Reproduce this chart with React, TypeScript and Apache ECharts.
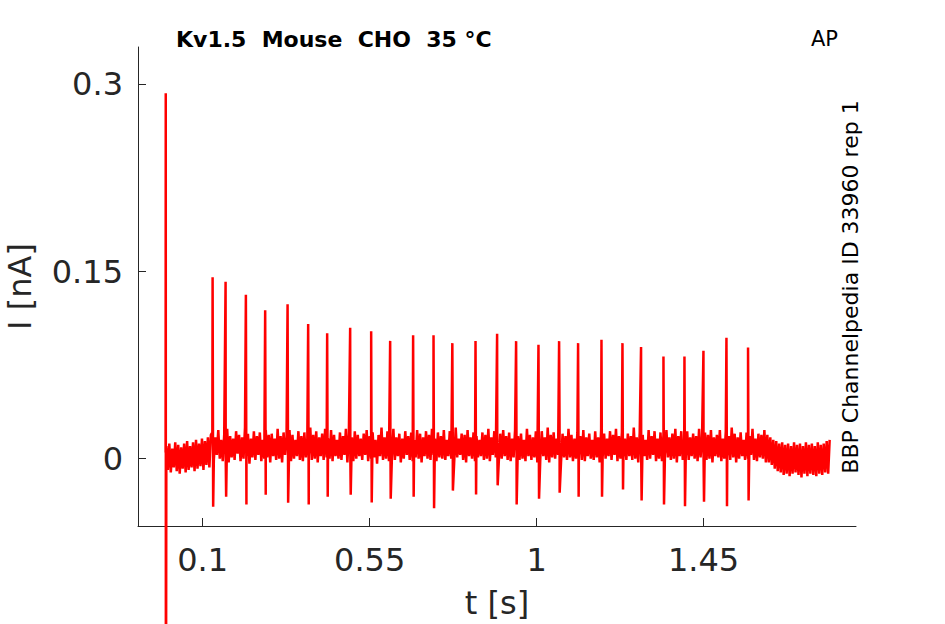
import React, { useEffect, useRef } from "react";
import * as echarts from "echarts";

// ---- data ----
const xTicks = [0.1, 0.55, 1, 1.45];
const yTicks = [0, 0.15, 0.3];

// onset transient (t [s], I [nA])
const onsetTimes = [0, 0.0004, 0.0008];
const onsetValues = [0.005, 0.293, -0.3];

// action-potential evoked spikes
const spikeTimes = [0.1267, 0.1617, 0.2164, 0.2684, 0.3288, 0.3843, 0.4355, 0.4975, 0.5541, 0.6053, 0.6672, 0.7222, 0.7729, 0.8354, 0.8936, 0.9448, 1.0051, 1.0607, 1.1119, 1.1749, 1.2315, 1.2816, 1.342, 1.3986, 1.4498, 1.5118, 1.57];
const spikePeaks = [0.1454, 0.1418, 0.1314, 0.119, 0.1238, 0.108, 0.1006, 0.105, 0.1022, 0.0944, 0.099, 0.099, 0.0926, 0.0944, 0.1002, 0.0942, 0.0912, 0.0942, 0.0926, 0.0954, 0.0926, 0.0894, 0.0818, 0.0818, 0.0864, 0.097, 0.089];
const spikeTroughs = [-0.0386, -0.0306, -0.0368, -0.029, -0.0354, -0.0368, -0.0306, -0.029, -0.0352, -0.0322, -0.0306, -0.0398, -0.0256, -0.0288, -0.0214, -0.0368, -0.0322, -0.0274, -0.0306, -0.0306, -0.0248, -0.0336, -0.0368, -0.0382, -0.0346, -0.0382, -0.0336];
const spikeTroughLag = 0.0015;

// baseline noise, pA, sampled every 4 ms from 2 ms
const noiseT0 = 0.002;
const noiseDt = 0.004;
const noisePA = [
  // before the first spike
  10, -9, 12, -11, 8, -7, 13, -10, 11, -12, 9, -8, 12, -11, 14, -9, 10, -7, 13, -10,
  15, -8, 12, -6, 16, -9, 14, -5, 17, -7, 19,
  // spike train
  21, -1, 17, 3, 23, 0, 15, -2, 19, 2, 24, -3, 18, 1, 16, -1, 22, 4, 19, -2,
  17, 0, 25, 2, 20, -4, 16, 1, 22, -1, 18, 3, 21, -2, 15, 0, 23, 1, 19, -3,
  20, 2, 16, -1, 24, 0, 18, -3, 21, 3, 17, 1, 23, -2, 19, 0, 15, 2, 22, -1,
  18, -2, 21, 1, 16, 3, 25, -1, 19, 0, 22, -3, 17, 2, 20, -1, 24, 1, 16, 0,
  23, -2, 19, 2, 15, 0, 21, -1, 18, 3, 24, -3, 20, 1, 17, -2, 22, 0, 19, 2,
  16, -1, 20, 3, 23, -2, 18, 0, 21, 1, 15, -4, 19, 2, 25, -1, 17, 0, 22, -2,
  19, 1, 24, -1, 17, 2, 20, -3, 16, 0, 22, 3, 18, -1, 21, -2, 15, 1, 23, 0,
  20, -3, 17, 2, 22, 0, 19, -1, 24, 3, 16, -2, 21, 1, 18, 0, 23, -1, 15, 2,
  22, 0, 18, -2, 25, 1, 16, 3, 20, -1, 19, -3, 23, 2, 17, 0, 21, -2, 18, 1,
  15, 2, 21, -1, 19, 0, 24, -2, 17, 3, 22, 1, 16, -3, 20, 0, 23, 2, 18, -1,
  21, -2, 16, 1, 23, 3, 18, -1, 20, 0, 15, -2, 24, 2, 19, -1, 17, 1, 22, -3,
  18, 0, 22, 2, 17, -1, 25, -3, 19, 1, 21, 0, 16, 3, 23, -2, 20, 1, 18, -1,
  24, 1, 19, -2, 16, 0, 21, 3, 18, -1, 23, -2, 17, 2, 20, 0, 15, -1, 22, 1,
  17, -3, 23, 1, 20, 0, 16, 2, 22, -1, 19, 3, 24, -2, 18, 0, 21, 1, 16, -1,
  20, 2, 18, -1, 25, 0, 17, -3, 21, 1, 19, 2, 15, -1, 23, 0, 18, 3, 22, -2,
  16, 0, 21, -2, 19, 3, 23, 1, 17, -1, 20, 0, 24, -3, 18, 2, 22, -1, 15, 1,
  22, -1, 17, 2, 20, 0, 18, -2, 24, 1, 16, 3, 21, -1, 19, 0, 23, -3, 17, 2,
  19, 1, 23, -2, 16, 0, 22, 2, 18, -1, 25, 1, 20, -3, 17, 0, 21, 2, 15, -1,
  21, 0, 18, 3, 24, -1, 16, -2, 20, 1, 19, 0, 23, -3,
  // after the train
  19, -3, 17, -5, 15, -8, 14, -10, 12, -11, 13, -13, 11, -12, 12, -14, 10, -12, 13, -11,
  11, -13, 12, -15, 10, -12, 13, -14, 11, -12, 12, -13, 10, -14, 13, -12, 11, -13, 12, -11,
  14, -12, 15,
];

const titleText = "Kv1.5  Mouse  CHO  35 °C";
const cornerText = "AP";
const sideText = "BBP Channelpedia ID 33960 rep 1";
const xName = "t [s]";
const yName = "I [nA]";

function buildTrace(): [number, number][] {
  const pts: [number, number][] = [];
  onsetTimes.forEach((t, i) => pts.push([t, onsetValues[i]]));
  noisePA.forEach((v, i) => pts.push([noiseT0 + i * noiseDt, v / 1000]));
  spikeTimes.forEach((t, i) => {
    pts.push([t, spikePeaks[i]]);
    pts.push([t + spikeTroughLag, spikeTroughs[i]]);
  });
  pts.sort((a, b) => a[0] - b[0]);
  return pts;
}

const FONT = "'DejaVu Sans', 'Liberation Sans', sans-serif";
const AXIS_COLOR = "#262626";

export default function App() {
  const ref = useRef<HTMLDivElement>(null);
  useEffect(() => {
    if (!ref.current) return;
    const chart = echarts.init(ref.current, undefined, { renderer: "svg" });
    chart.setOption({
      animation: false,
      backgroundColor: "#ffffff",
      grid: { left: 138, right: 89, top: 47, bottom: 98, containLabel: false, outerBoundsMode: "none" },
      xAxis: {
        type: "value",
        min: -0.0744,
        max: 1.861,
        name: xName,
        nameLocation: "middle",
        nameGap: 61,
        nameTextStyle: { fontFamily: FONT, fontSize: 32, color: AXIS_COLOR },
        axisLine: { show: true, onZero: false, lineStyle: { color: AXIS_COLOR, width: 1 } },
        axisTick: { show: true, inside: true, length: 8, customValues: xTicks, lineStyle: { color: AXIS_COLOR } },
        axisLabel: { show: true, customValues: xTicks, margin: 18, fontFamily: FONT, fontSize: 32, color: AXIS_COLOR },
        splitLine: { show: false },
      },
      yAxis: {
        type: "value",
        min: -0.054,
        max: 0.33,
        name: yName,
        nameLocation: "middle",
        nameGap: 102,
        nameTextStyle: { fontFamily: FONT, fontSize: 32, color: AXIS_COLOR },
        axisLine: { show: true, onZero: false, lineStyle: { color: AXIS_COLOR, width: 1 } },
        axisTick: { show: true, inside: true, length: 8, customValues: yTicks, lineStyle: { color: AXIS_COLOR } },
        axisLabel: { show: true, customValues: yTicks, margin: 15, fontFamily: FONT, fontSize: 32, color: AXIS_COLOR },
        splitLine: { show: false },
      },
      graphic: [
        {
          type: "text",
          x: 176,
          y: 39.5,
          style: { text: titleText, font: `bold 22px ${FONT}`, fill: "#000", align: "left", verticalAlign: "middle" },
        },
        {
          type: "text",
          x: 811,
          y: 38.5,
          style: { text: cornerText, font: `21px ${FONT}`, fill: "#000", align: "left", verticalAlign: "middle" },
        },
        {
          type: "text",
          x: 850,
          y: 287,
          rotation: Math.PI / 2,
          style: { text: sideText, font: `22px ${FONT}`, fill: "#000", align: "center", verticalAlign: "middle" },
        },
      ],
      series: [
        {
          type: "line",
          data: buildTrace(),
          showSymbol: false,
          symbol: "none",
          clip: false,
          silent: true,
          lineStyle: { color: "#ff0000", width: 2.5 },
        },
      ],
    });
    return () => chart.dispose();
  }, []);
  return <div ref={ref} style={{ position: "absolute", left: 0, top: 0, width: 945, height: 624 }} />;
}
